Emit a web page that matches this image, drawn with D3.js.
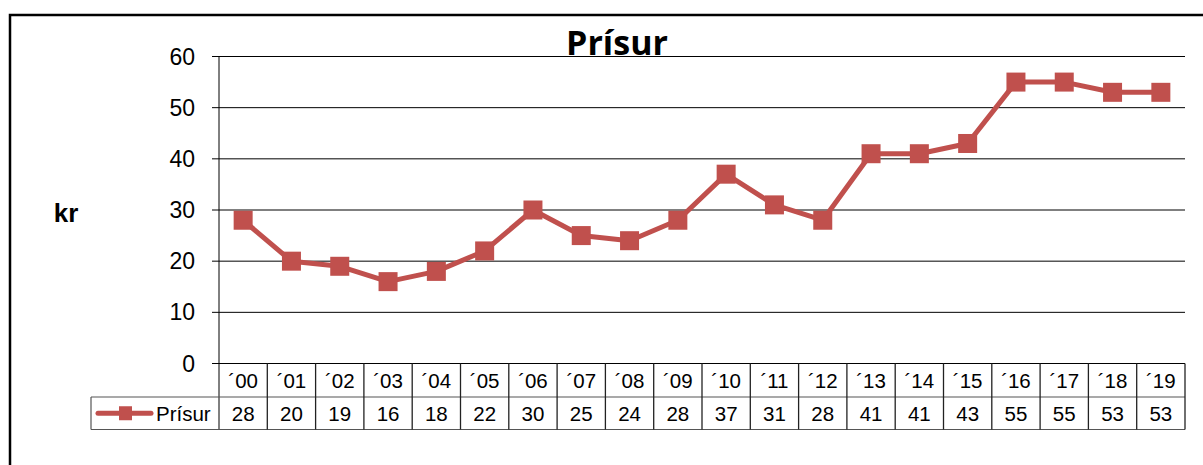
<!DOCTYPE html>
<html>
<head>
  <meta charset="utf-8">
  <script src="https://cdnjs.cloudflare.com/ajax/libs/d3/7.8.5/d3.min.js"></script>
  <style>
    body { margin: 0; padding: 0; background: #fff; }
    text { font-family: "Liberation Sans", Arial, sans-serif; fill: #000; }
  </style>
</head>
<body>
<svg width="1203" height="465"></svg>
<script>
  // data
  let years = ["´00", "´01", "´02", "´03", "´04", "´05", "´06", "´07", "´08", "´09",
    "´10", "´11", "´12", "´13", "´14", "´15", "´16", "´17", "´18", "´19"];
  let prisur = [28, 20, 19, 16, 18, 22, 30, 25, 24, 28, 37, 31, 28, 41, 41, 43, 55, 55, 53, 53];
  let yTicks = [0, 10, 20, 30, 40, 50, 60];
  let seriesName = "Prísur";
  let color = "#C0504D";

  let svg = d3.select("svg");

  // outer frame (open on right and bottom, clipped like the picture)
  svg.append("path")
    .attr("d", "M10,470 L10,15 L1210,15")
    .attr("fill", "none")
    .attr("stroke", "#000")
    .attr("stroke-width", 2.5);

  let plotLeft = 219, plotRight = 1185, plotTop = 56.5, plotBottom = 363.5;
  let row1 = 397, row2 = 429.5, legendLeft = 91;

  let x = d3.scaleBand().domain(years).range([plotLeft, plotRight]);
  let y = d3.scaleLinear().domain([0, 60]).range([plotBottom, plotTop]);

  // gridlines
  svg.append("g").selectAll("line")
    .data(yTicks)
    .enter().append("line")
    .attr("x1", plotLeft - 7)
    .attr("x2", plotRight)
    .attr("y1", d => y(d))
    .attr("y2", d => y(d))
    .attr("stroke", "#000")
    .attr("stroke-width", 1);

  // y axis line
  svg.append("line")
    .attr("x1", plotLeft).attr("x2", plotLeft)
    .attr("y1", plotTop).attr("y2", row2)
    .attr("stroke", "#000");

  // y tick labels
  svg.append("g").selectAll("text")
    .data(yTicks)
    .enter().append("text")
    .attr("x", plotLeft - 24)
    .attr("y", d => y(d))
    .attr("dy", "0.35em")
    .attr("text-anchor", "end")
    .style("font-size", "23px")
    .text(d => d);

  // axis title
  svg.append("text")
    .attr("x", 66)
    .attr("y", 213)
    .attr("dy", "0.35em")
    .attr("text-anchor", "middle")
    .style("font-size", "26px")
    .style("font-weight", "bold")
    .text("kr");

  // chart title
  svg.append("text")
    .attr("x", 617)
    .attr("y", 55)
    .attr("text-anchor", "middle")
    .style("font-family", "'Open Sans', 'DejaVu Sans', sans-serif")
    .style("font-size", "34px")
    .style("font-weight", "bold")
    .text("Prísur");

  // data table
  let table = svg.append("g");
  table.append("line")
    .attr("x1", legendLeft).attr("x2", plotRight)
    .attr("y1", row1).attr("y2", row1)
    .attr("stroke", "#555").attr("stroke-width", 1.2);
  table.append("line")
    .attr("x1", legendLeft).attr("x2", plotRight)
    .attr("y1", row2).attr("y2", row2)
    .attr("stroke", "#555").attr("stroke-width", 1.2);
  table.append("line")
    .attr("x1", legendLeft).attr("x2", legendLeft)
    .attr("y1", row1).attr("y2", row2)
    .attr("stroke", "#555").attr("stroke-width", 1.2);

  // vertical separators
  table.selectAll(".sep")
    .data(years)
    .enter().append("line")
    .attr("class", "sep")
    .attr("x1", d => x(d) + x.bandwidth())
    .attr("x2", d => x(d) + x.bandwidth())
    .attr("y1", plotBottom)
    .attr("y2", row2)
    .attr("stroke", "#222")
    .attr("stroke-width", 1.3);

  // category labels
  table.selectAll(".cat")
    .data(years)
    .enter().append("text")
    .attr("class", "cat")
    .attr("x", d => x(d) + x.bandwidth() / 2)
    .attr("y", (plotBottom + row1) / 2 + 1)
    .attr("dy", "0.35em")
    .attr("text-anchor", "middle")
    .style("font-size", "20.5px")
    .text(d => d);

  // values row
  table.selectAll(".val")
    .data(prisur)
    .enter().append("text")
    .attr("class", "val")
    .attr("x", (d, i) => x(years[i]) + x.bandwidth() / 2)
    .attr("y", (row1 + row2) / 2 + 1)
    .attr("dy", "0.35em")
    .attr("text-anchor", "middle")
    .style("font-size", "20.5px")
    .text(d => d);

  // legend key in table
  let ly = (row1 + row2) / 2;
  table.append("line")
    .attr("x1", 98).attr("x2", 151)
    .attr("y1", ly).attr("y2", ly)
    .attr("stroke", color)
    .attr("stroke-width", 5)
    .attr("stroke-linecap", "round");
  table.append("rect")
    .attr("x", 119).attr("y", ly - 7)
    .attr("width", 13).attr("height", 14)
    .attr("fill", color);
  table.append("text")
    .attr("x", 156)
    .attr("y", ly + 1)
    .attr("dy", "0.35em")
    .style("font-size", "20.5px")
    .text(seriesName);

  // series line
  let line = d3.line()
    .x((d, i) => x(years[i]) + x.bandwidth() / 2)
    .y(d => y(d));

  svg.append("path")
    .datum(prisur)
    .attr("d", line)
    .attr("fill", "none")
    .attr("stroke", color)
    .attr("stroke-width", 5)
    .attr("stroke-linejoin", "round");

  let ms = 19;
  svg.append("g").selectAll("rect")
    .data(prisur)
    .enter().append("rect")
    .attr("x", (d, i) => x(years[i]) + x.bandwidth() / 2 - ms / 2)
    .attr("y", d => y(d) - ms / 2)
    .attr("width", ms)
    .attr("height", ms)
    .attr("fill", color);
</script>
</body>
</html>
